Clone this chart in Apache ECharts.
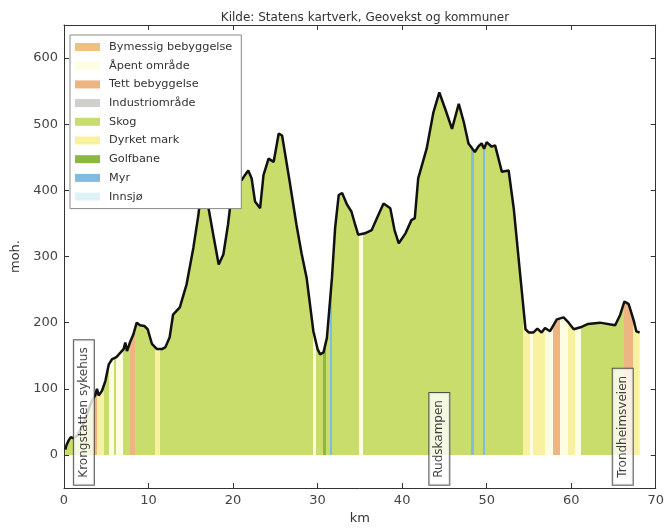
<!DOCTYPE html>
<html>
<head>
<meta charset="utf-8">
<script src="https://cdn.jsdelivr.net/npm/echarts@6/dist/echarts.min.js"></script>
<style>
html,body{margin:0;padding:0;background:#fff;}
#chart{width:667px;height:530px;}
</style>
</head>
<body>
<div id="chart"></div>
<script>
// Profile: distance (km) and elevation (moh.)
const profileKm = [0.15,0.3,0.55,0.8,1.15,1.6,2.2,2.8,3.3,3.7,3.9,4.1,4.5,4.9,5.3,5.7,6.2,6.7,7.05,7.25,7.45,7.8,8.2,8.6,9.0,9.5,9.9,10.4,11.0,11.6,12.0,12.5,12.9,13.7,14.5,15.3,15.9,16.5,17.1,17.7,18.3,18.85,19.4,20.0,20.6,21.0,21.4,21.8,22.2,22.6,23.2,23.6,24.2,24.8,25.4,25.8,26.7,27.5,28.1,28.7,29.5,30.0,30.3,30.7,31.1,31.7,32.07,32.5,32.9,33.5,34.0,34.4,34.8,35.6,36.4,37.2,37.8,38.6,39.1,39.6,40.4,41.1,41.5,41.9,42.9,43.7,44.4,45.1,45.9,46.7,47.3,47.85,48.6,49.0,49.4,49.7,50.0,50.6,51.0,51.8,52.6,53.2,54.0,54.6,55.0,55.5,56.0,56.5,56.9,57.5,58.3,59.1,59.7,60.3,61.1,62.0,63.4,65.2,65.8,66.3,66.8,67.4,67.7,68.1];
const profileElev = [8,15,22,27,25,30,45,65,82,90,100,90,97,112,137,145,148,155,160,170,157,170,182,200,196,195,190,168,160,160,163,178,212,223,258,313,363,430,373,330,288,303,348,413,420,415,423,430,418,383,373,423,448,443,486,483,413,348,305,268,187,160,152,155,177,268,343,393,396,378,368,350,333,335,340,363,380,373,340,320,335,355,358,418,463,518,548,523,493,531,503,471,458,466,471,463,473,466,468,428,430,373,268,190,185,185,191,185,192,187,205,208,200,190,193,198,200,196,212,232,228,203,187,185];

// Land-use classes (legend order) and colours
const landUseNames = ['Bymessig bebyggelse','Åpent område','Tett bebyggelse','Industriområde','Skog','Dyrket mark','Golfbane','Myr','Innsjø'];
const landUseColors = ['#f2c07e','#fdfde4','#edb581','#cfd0cc','#c8dd6c','#f8f2a0','#8cb83e','#80bbe0','#dff3f6'];

// Land-use segments along the profile (km); everything else is Skog
const segStart = [3.5,3.9,5.3,6.1,7.85,10.8,29.5,30.6,31.5,34.9,48.2,49.6,54.3,55.1,55.5,56.9,57.9,58.7,59.6,60.4,66.3,67.3];
const segEnd   = [3.9,4.7,5.9,7.0,8.45,11.4,29.8,31.05,31.75,35.4,48.45,49.85,55.1,55.5,56.9,57.9,58.7,59.6,60.4,61.2,67.3,68.2];
const segType  = ['Tett bebyggelse','Dyrket mark','Åpent område','Åpent område','Tett bebyggelse','Dyrket mark','Åpent område','Golfbane','Myr','Åpent område','Myr','Myr','Dyrket mark','Åpent område','Dyrket mark','Åpent område','Tett bebyggelse','Åpent område','Dyrket mark','Åpent område','Tett bebyggelse','Dyrket mark'];

// Place annotations
const placeNames = ['Krongstatten sykehus','Rudskampen','Trondheimsveien'];
const placeKm = [2.35,44.4,66.1];

const xTicks = [0,10,20,30,40,50,60,70];
const yTicks = [0,100,200,300,400,500,600];

const colorOf = n => landUseColors[landUseNames.indexOf(n)];
const profile = profileKm.map((k,i)=>[k, profileElev[i]]);
const FONT = 'DejaVu Sans';

const chart = echarts.init(document.getElementById('chart'), null, {renderer:'canvas'});

const axisCommon = {
  type:'value',
  axisLine:{show:true, onZero:false, lineStyle:{color:'#333', width:1}},
  axisTick:{show:true, inside:true, length:5, lineStyle:{color:'#333'}},
  splitLine:{show:false}
};

const option = {
  animation:false,
  backgroundColor:'#fff',
  title:{
    text:'Kilde: Statens kartverk, Geovekst og kommuner',
    left:360, textAlign:'center', top:7,
    textStyle:{fontFamily:FONT, fontSize:12, fontWeight:'normal', color:'#333'}
  },
  grid:{left:64, right:11, top:25, bottom:39},
  xAxis:[
    Object.assign({}, axisCommon, {
      min:0, max:70, interval:10, position:'bottom',
      name:'km', nameLocation:'middle', nameGap:24,
      nameTextStyle:{fontFamily:FONT, fontSize:13, color:'#333'},
      axisLabel:{fontFamily:FONT, fontSize:13, color:'#444', margin:6,
        formatter: v => xTicks.includes(v) ? String(v) : ''}
    }),
    Object.assign({}, axisCommon, {
      min:0, max:70, interval:10, position:'top', axisLabel:{show:false}
    })
  ],
  yAxis:[
    Object.assign({}, axisCommon, {
      min:-50, max:650, interval:50, position:'left',
      name:'moh.', nameLocation:'middle', nameGap:38,
      nameTextStyle:{fontFamily:FONT, fontSize:13, color:'#333'},
      axisTick:{show:true, inside:true, length:5, lineStyle:{color:'#333'},
        customValues: yTicks},
      axisLabel:{fontFamily:FONT, fontSize:13, color:'#444', margin:6,
        customValues: yTicks}
    }),
    Object.assign({}, axisCommon, {
      min:-50, max:650, interval:50, position:'right', axisLabel:{show:false},
      axisTick:{show:true, inside:true, length:5, lineStyle:{color:'#333'}, customValues: yTicks}
    })
  ],
  legend:{
    data: landUseNames,
    orient:'vertical', left:70, top:35,
    padding:[5,9,5,5],
    itemWidth:25, itemHeight:8, itemGap:4.7,
    icon:'rect',
    backgroundColor:'#fff', borderColor:'#888', borderWidth:1,
    textStyle:{fontFamily:FONT, fontSize:11.3, color:'#333', lineHeight:14, padding:[0,0,0,4]},
    selectedMode:false, z:20
  },
  visualMap:{
    type:'piecewise', show:false, dimension:0, seriesIndex:0,
    pieces: segStart.map((s,i)=>({gte:s, lt:segEnd[i], color:colorOf(segType[i])})),
    outOfRange:{color: colorOf('Skog')}
  },
  series:[
    {
      name:'terrain-fill', type:'line', data:profile, showSymbol:false,
      lineStyle:{width:0}, areaStyle:{opacity:1}, z:2, silent:true
    },
    {
      name:'profil', type:'line', data:profile, showSymbol:false,
      lineStyle:{color:'#111', width:2.5}, itemStyle:{color:'#111'}, z:3, silent:true
    },
    {
      name:'places', type:'scatter', symbolSize:0, z:10,
      data: placeKm.map((k,i)=>({value:[k,-45], name:placeNames[i]})),
      label:{
        show:true, position:'inside', rotate:90, align:'left', verticalAlign:'middle',
        formatter: p => p.name,
        fontFamily:FONT, fontSize:12, color:'#111', lineHeight:14,
        backgroundColor:'#fff', borderColor:'#333', borderWidth:1, padding:[3,7]
      }
    }
  ].concat(landUseNames.map((n,i)=>({
    name:n, type:'bar', data:[], itemStyle:{color:landUseColors[i]}
  })))
};
chart.setOption(option);
</script>
</body>
</html>
